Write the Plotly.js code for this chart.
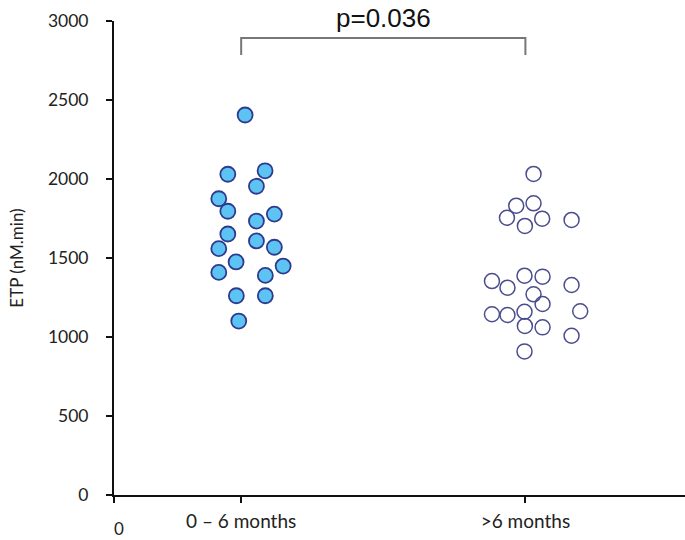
<!DOCTYPE html>
<html>
<head>
<meta charset="utf-8">
<script src="https://cdn.plot.ly/plotly-3.0.1.min.js"></script>
<style>
    html, body { margin: 0; padding: 0; background: #fff; }
    #chart { width: 685px; height: 540px; }
</style>
</head>
<body>
<div id="chart"></div>
<script>
    // groups and their x positions on the numeric axis
    const groupLabels = ["0 \u2013 6 months", ">6 months"];
    const groupCenters = [1, 3.235];

    // 0-6 months: ETP values and horizontal jitter
    const earlyEtp = [2405, 2030, 2052, 1954, 1875, 1796, 1778, 1734, 1652, 1608, 1559, 1568, 1475, 1449, 1409, 1390, 1261, 1261, 1101];
    const earlyJitter = [0.031, -0.105, 0.188, 0.120, -0.176, -0.105, 0.261, 0.120, -0.105, 0.120, -0.176, 0.261, -0.040, 0.330, -0.176, 0.190, -0.038, 0.190, -0.019];

    // >6 months
    const lateEtp = [2032, 1831, 1846, 1755, 1749, 1703, 1741, 1354, 1312, 1388, 1382, 1270, 1329, 1209, 1144, 1139, 1160, 1163, 1070, 1061, 1008, 909];
    const lateJitter = [0.064, -0.072, 0.064, -0.145, 0.132, -0.004, 0.363, -0.263, -0.141, -0.007, 0.135, 0.064, 0.363, 0.135, -0.263, -0.141, -0.007, 0.431, -0.004, 0.135, 0.363, -0.007];

    const yTicks = [0, 500, 1000, 1500, 2000, 2500, 3000];
    const pValueText = "p=0.036";
    const bracketLow = 2785, bracketHigh = 2892;

    const el = (id) => document.getElementById(id);

    const traces = [
        {
            type: "scatter",
            mode: "markers",
            x: earlyJitter.map((d) => groupCenters[0] + d),
            y: earlyEtp,
            cliponaxis: false,
            marker: { size: 15, color: "#5cc3f2", line: { color: "#2e3a8f", width: 1.8 } },
            hoverinfo: "y"
        },
        {
            type: "scatter",
            mode: "markers",
            x: lateJitter.map((d) => groupCenters[1] + d),
            y: lateEtp,
            cliponaxis: false,
            marker: { size: 15, color: "rgba(255,255,255,0)", line: { color: "#4a4c8e", width: 1.5 } },
            hoverinfo: "y"
        }
    ];

    const layout = {
        width: 685,
        height: 540,
        margin: { l: 114, r: 0, t: 21, b: 45 },
        paper_bgcolor: "#fff",
        plot_bgcolor: "#fff",
        showlegend: false,
        font: { family: "Lato, 'Open Sans', sans-serif", color: "#222" },
        xaxis: {
            range: [0, 4.49],
            tickmode: "array",
            tickvals: [0].concat(groupCenters),
            ticktext: [""].concat(groupLabels),
            ticks: "outside",
            ticklen: 6,
            tickwidth: 2,
            tickcolor: "#111",
            showline: true,
            linecolor: "#111",
            linewidth: 2,
            showgrid: false,
            zeroline: false,
            ticklabelstandoff: 2,
            tickfont: { size: 19, family: "Lato, sans-serif", color: "#222" }
        },
        yaxis: {
            range: [0, 3000],
            tickmode: "array",
            tickvals: yTicks,
            ticks: "outside",
            ticklen: 6,
            tickwidth: 2,
            tickcolor: "#111",
            showline: true,
            linecolor: "#111",
            linewidth: 2,
            showgrid: false,
            zeroline: false,
            ticklabelstandoff: 14,
            tickfont: { size: 17.5, family: "Lato, sans-serif", color: "#222" },
            title: { text: "ETP (nM.min)", font: { size: 17, family: "Lato, sans-serif", color: "#222" }, standoff: 20 }
        },
        shapes: [
            {
                type: "path",
                xref: "x", yref: "y",
                path: `M ${groupCenters[0]} ${bracketLow} L ${groupCenters[0]} ${bracketHigh} L ${groupCenters[1]} ${bracketHigh} L ${groupCenters[1]} ${bracketLow}`,
                line: { color: "#777", width: 2 }
            }
        ],
        annotations: [
            {
                text: pValueText,
                xref: "x", yref: "paper",
                x: (groupCenters[0] + groupCenters[1]) / 2,
                y: 1.0,
                yanchor: "bottom",
                yshift: -13,
                borderpad: 0,
                showarrow: false,
                font: { size: 26, family: "'Liberation Sans', Arial, sans-serif", color: "#111" }
            },
            {
                text: "0",
                xref: "x", yref: "paper",
                x: 0, y: 0,
                xshift: 5,
                yshift: -33,
                yanchor: "middle",
                borderpad: 0,
                showarrow: false,
                font: { size: 17, family: "Lato, sans-serif", color: "#222" }
            }
        ]
    };

    Plotly.newPlot(el("chart"), traces, layout, { displayModeBar: false, staticPlot: true });
</script>
</body>
</html>
